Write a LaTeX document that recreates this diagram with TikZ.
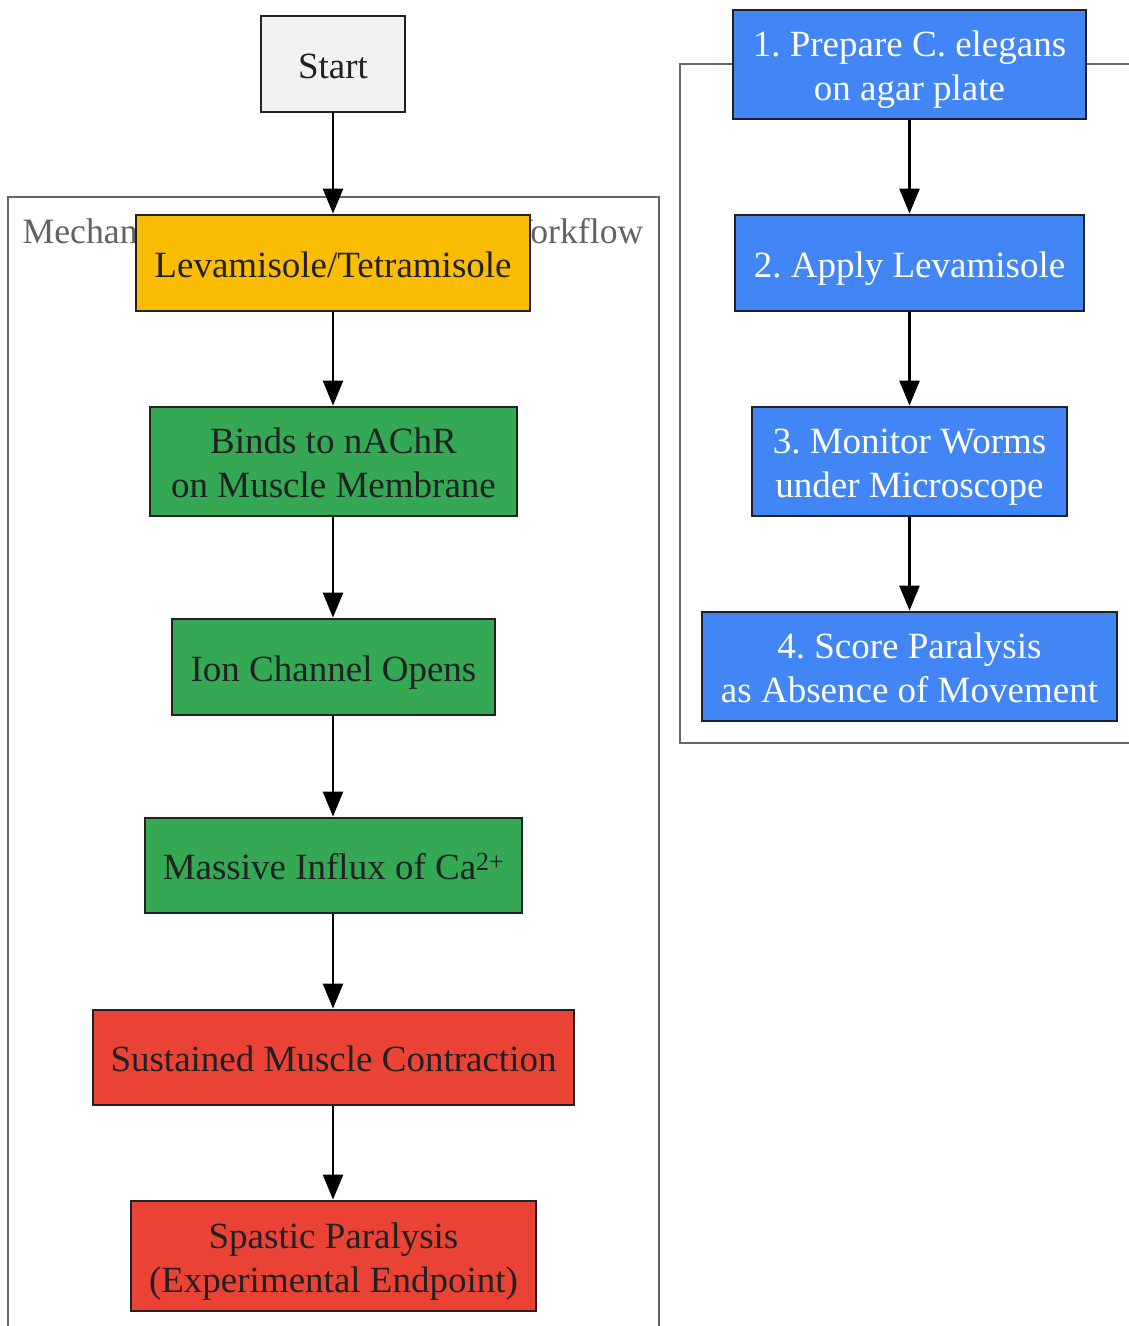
\documentclass[tikz,border=0pt]{standalone}
\usepackage{fontspec}
\setmainfont{Liberation Serif}
\usetikzlibrary{arrows.meta}
\definecolor{startfill}{HTML}{F1F2F4}
\definecolor{yel}{HTML}{FBBC04}
\definecolor{grn}{HTML}{34A853}
\definecolor{rd}{HTML}{EA4335}
\definecolor{blu}{HTML}{4285F4}
\definecolor{bord}{HTML}{222222}
\definecolor{txt}{HTML}{202124}
\definecolor{clus}{HTML}{666666}
\definecolor{clustxt}{HTML}{5F6368}
\tikzset{
  box/.style={draw=bord, line width=2.8pt, rectangle, inner sep=0pt, align=center,
    text=txt, font=\fontsize{37}{44}\selectfont\frenchspacing, text height=36pt, text depth=8pt},
  twoline/.style={text height=80pt},
  bluebox/.style={box, fill=blu, text=white},
  cluster/.style={draw=clus, line width=2.4pt},
  flow/.style={draw=black, line width=2.5pt, -{Triangle[length=25pt,width=20pt]}}
}
\begin{document}
\begin{tikzpicture}[x=1pt,y=-1pt]
\useasboundingbox (0,0) rectangle (1128,1326);
% clusters
\draw[cluster] (8,1340) -- (8,197) -- (659,197) -- (659,1340);
\node[text=clustxt, font=\fontsize{35.7}{40}\selectfont, anchor=base, inner sep=0pt] (lbl) at (333,243) {Mechanism of Action and Assay Workflow};
\draw[cluster] (1140,743) -- (680,743) -- (680,64) -- (1140,64);
% left nodes
\node[box, fill=startfill, minimum width=144pt, minimum height=96pt] (start) at (333,64) {Start};
\node[box, fill=yel, minimum width=394pt, minimum height=96pt] (lev) at (333,263) {Levamisole/Tetramisole};
\node[box, twoline, fill=grn, minimum width=367pt, minimum height=109pt] (bind) at (333.5,461.5) {Binds to nAChR\\on Muscle Membrane};
\node[box, fill=grn, minimum width=323pt, minimum height=96pt] (ion) at (333.5,667) {Ion Channel Opens};
\node[box, fill=grn, minimum width=377pt, minimum height=95pt] (ca) at (333.5,865.5) {Massive Influx of Ca\textsuperscript{2+}};
\node[box, fill=rd, minimum width=481pt, minimum height=95pt] (sus) at (333.5,1057.5) {Sustained Muscle Contraction};
\node[box, twoline, fill=rd, minimum width=405pt, minimum height=110pt] (spa) at (333.5,1256) {Spastic Paralysis\\(Experimental Endpoint)};
% right nodes
\node[bluebox, twoline, minimum width=353pt, minimum height=109pt] (r1) at (909.5,64.5) {1. Prepare C. elegans\\on agar plate};
\node[bluebox, minimum width=349pt, minimum height=96pt] (r2) at (909.5,263) {2. Apply Levamisole};
\node[bluebox, twoline, minimum width=315pt, minimum height=109pt] (r3) at (909.5,461.5) {3. Monitor Worms\\under Microscope};
\node[bluebox, twoline, minimum width=415pt, minimum height=109pt] (r4) at (909.5,666.5) {4. Score Paralysis\\as Absence of Movement};
% connectors
\draw[flow] (start.south) -- (start.south |- lev.north);
\draw[flow] (lev.south -| start.south) -- (start.south |- bind.north);
\draw[flow] (bind.south -| start.south) -- (start.south |- ion.north);
\draw[flow] (ion.south -| start.south) -- (start.south |- ca.north);
\draw[flow] (ca.south -| start.south) -- (start.south |- sus.north);
\draw[flow] (sus.south -| start.south) -- (start.south |- spa.north);
\draw[flow] (r1.south) -- (r2.north);
\draw[flow] (r2.south) -- (r3.north);
\draw[flow] (r3.south) -- (r4.north);
\end{tikzpicture}
\end{document}
